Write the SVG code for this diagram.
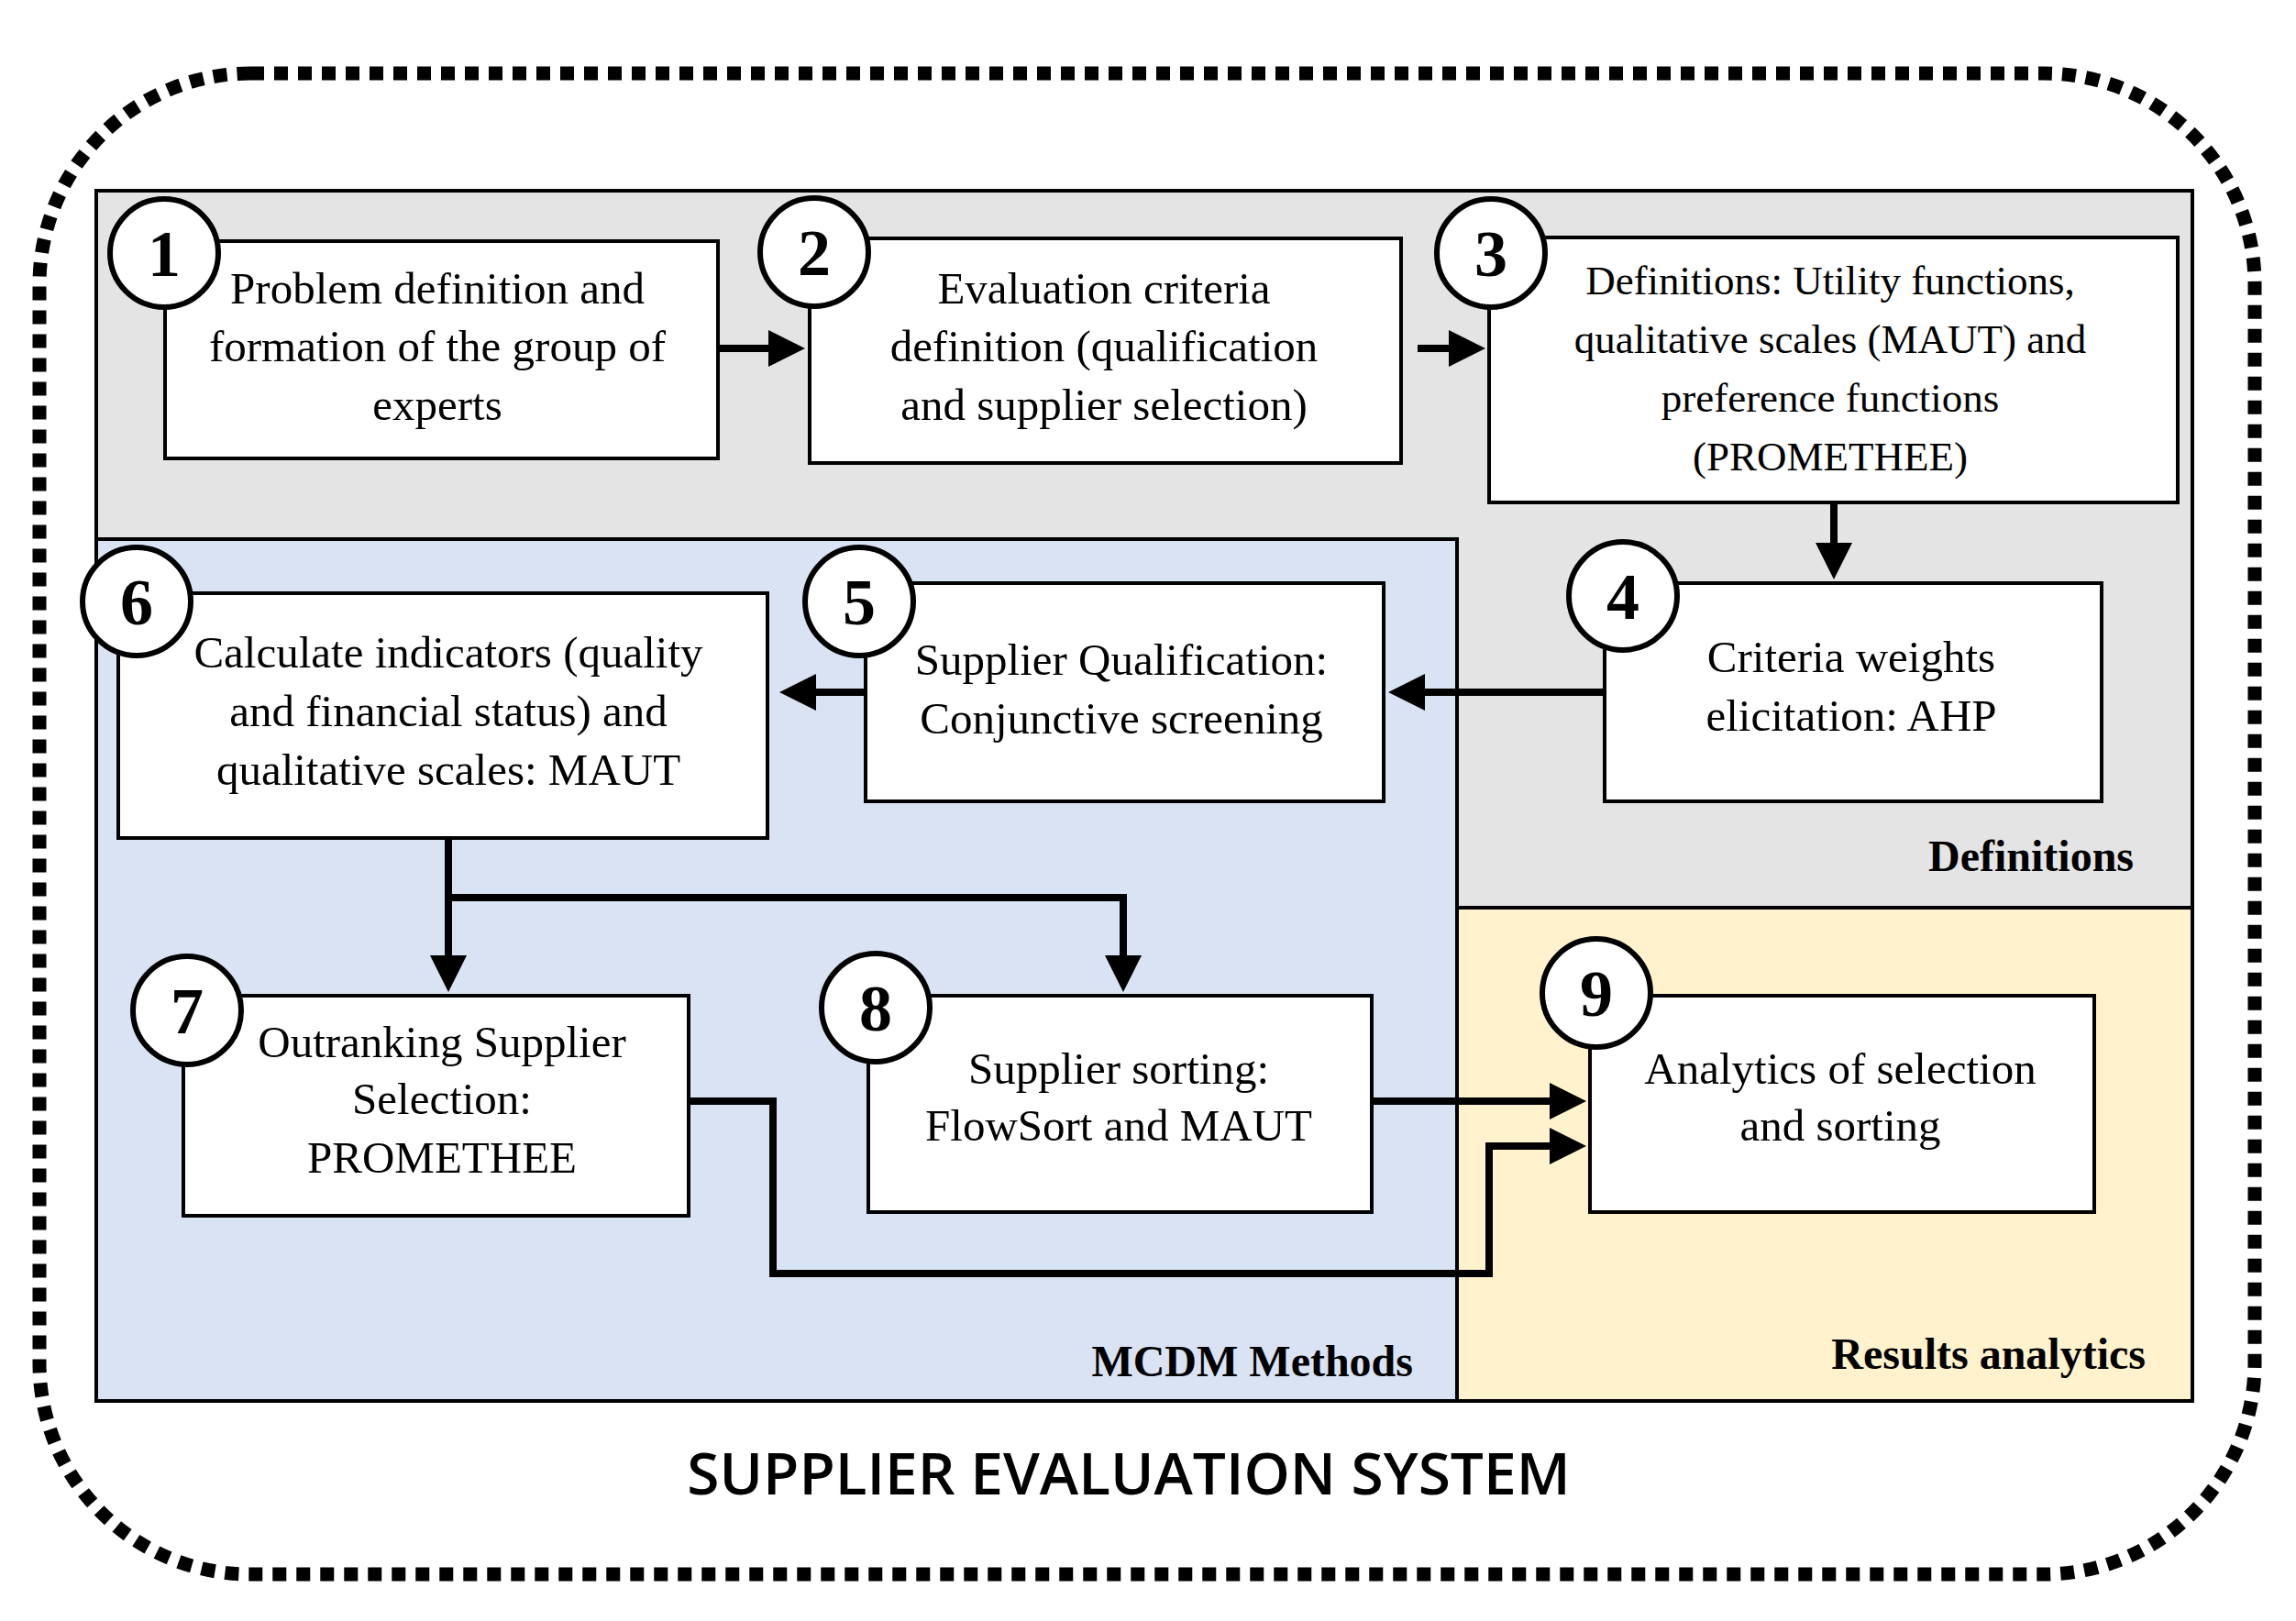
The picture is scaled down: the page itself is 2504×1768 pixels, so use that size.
<svg xmlns="http://www.w3.org/2000/svg" width="2504" height="1768" viewBox="0 0 2504 1768">
<style>
.box{fill:#fff;stroke:#000;stroke-width:4}
.t{font-family:"Liberation Serif",serif;font-size:49px;text-anchor:middle;fill:#000}
.t3{font-family:"Liberation Serif",serif;font-size:45px;text-anchor:middle;fill:#000}
.c{fill:#fff;stroke:#000;stroke-width:6}
.n{font-family:"Liberation Serif",serif;font-size:72px;font-weight:bold;text-anchor:middle}
.lab{font-family:"Liberation Serif",serif;font-size:48px;font-weight:bold;text-anchor:end}
.ln{fill:none;stroke:#000;stroke-width:8}
</style>
<defs>
<marker id="a" markerWidth="5" markerHeight="5" refX="4" refY="2.5" orient="auto" markerUnits="strokeWidth"><path d="M0,0 L5,2.5 L0,5 Z" fill="#000"/></marker>
</defs>
<rect width="2504" height="1768" fill="#fff"/>
<rect x="43" y="80" width="2416" height="1637" rx="230" fill="none" stroke="#000" stroke-width="15" stroke-dasharray="15 11"/>
<g id="areas">
<rect x="105" y="208" width="2286" height="1320" fill="#e4e4e4" stroke="#000" stroke-width="4"/>
<rect x="105" y="588" width="1484" height="940" fill="#dae3f3" stroke="#000" stroke-width="4"/>
<rect x="1589" y="990" width="802" height="538" fill="#fff2cc" stroke="#000" stroke-width="4"/>
<text class="lab" x="2327" y="950">Definitions</text>
<text class="lab" x="1541" y="1501">MCDM Methods</text>
<text class="lab" x="2340" y="1493">Results analytics</text>
</g>
<g id="connectors">
<path class="ln" d="M783,380 H870" marker-end="url(#a)"/>
<path class="ln" d="M1546,380 H1612" marker-end="url(#a)"/>
<path class="ln" d="M2000,548 V624" marker-end="url(#a)"/>
<path class="ln" d="M1750,755 H1522" marker-end="url(#a)"/>
<path class="ln" d="M944,755 H858" marker-end="url(#a)"/>
<path class="ln" d="M489,914 V1074" marker-end="url(#a)"/>
<path class="ln" d="M489,979 H1225 V1074" marker-end="url(#a)"/>
<path class="ln" d="M1496,1201 H1722" marker-end="url(#a)"/>
<path class="ln" d="M751,1201 H843 V1389 H1624 V1250 H1722" marker-end="url(#a)"/>
</g>
<g id="n1"><rect class="box" x="180" y="263" width="603" height="237"/><circle class="c" cx="179" cy="276" r="59"/><text class="n" x="179" y="301">1</text>
<text class="t"><tspan x="477" y="331">Problem definition and</tspan><tspan x="477" y="394">formation of the group of</tspan><tspan x="477" y="458">experts</tspan></text></g>
<g id="n2"><rect class="box" x="883" y="260" width="645" height="245"/><circle class="c" cx="888" cy="275" r="59"/><text class="n" x="888" y="300">2</text>
<text class="t"><tspan x="1204" y="331">Evaluation criteria</tspan><tspan x="1204" y="394">definition (qualification</tspan><tspan x="1204" y="458">and supplier selection)</tspan></text></g>
<g id="n3"><rect class="box" x="1624" y="259" width="751" height="289"/><circle class="c" cx="1626" cy="276" r="59"/><text class="n" x="1626" y="301">3</text>
<text class="t3"><tspan x="1996" y="321">Definitions: Utility functions,</tspan><tspan x="1996" y="385">qualitative scales  (MAUT) and</tspan><tspan x="1996" y="449">preference functions</tspan><tspan x="1996" y="513">(PROMETHEE)</tspan></text></g>
<g id="n4"><rect class="box" x="1750" y="636" width="542" height="238"/><circle class="c" cx="1770" cy="650" r="59"/><text class="n" x="1770" y="675">4</text>
<text class="t"><tspan x="2019" y="733">Criteria weights</tspan><tspan x="2019" y="797">elicitation: AHP</tspan></text></g>
<g id="n5"><rect class="box" x="944" y="636" width="565" height="238"/><circle class="c" cx="937" cy="656" r="59"/><text class="n" x="937" y="681">5</text>
<text class="t"><tspan x="1223" y="736">Supplier Qualification:</tspan><tspan x="1223" y="800">Conjunctive screening</tspan></text></g>
<g id="n6"><rect class="box" x="129" y="647" width="708" height="267"/><circle class="c" cx="149" cy="656" r="59"/><text class="n" x="149" y="681">6</text>
<text class="t"><tspan x="489" y="728">Calculate indicators (quality</tspan><tspan x="489" y="792">and financial status) and</tspan><tspan x="489" y="856">qualitative scales: MAUT</tspan></text></g>
<g id="n7"><rect class="box" x="200" y="1086" width="551" height="240"/><circle class="c" cx="204" cy="1102" r="59"/><text class="n" x="204" y="1127">7</text>
<text class="t"><tspan x="482" y="1153">Outranking Supplier</tspan><tspan x="482" y="1215">Selection:</tspan><tspan x="482" y="1279">PROMETHEE</tspan></text></g>
<g id="n8"><rect class="box" x="947" y="1086" width="549" height="236"/><circle class="c" cx="955" cy="1099" r="59"/><text class="n" x="955" y="1124">8</text>
<text class="t"><tspan x="1220" y="1182">Supplier sorting:</tspan><tspan x="1220" y="1244">FlowSort and MAUT</tspan></text></g>
<g id="n9"><rect class="box" x="1734" y="1086" width="550" height="236"/><circle class="c" cx="1741" cy="1083" r="59"/><text class="n" x="1741" y="1108">9</text>
<text class="t"><tspan x="2007" y="1182">Analytics of selection</tspan><tspan x="2007" y="1244">and sorting</tspan></text></g>
<text x="1231" y="1630" font-family="Open Sans,sans-serif" font-size="64" font-weight="600" text-anchor="middle">SUPPLIER EVALUATION SYSTEM</text>
</svg>
